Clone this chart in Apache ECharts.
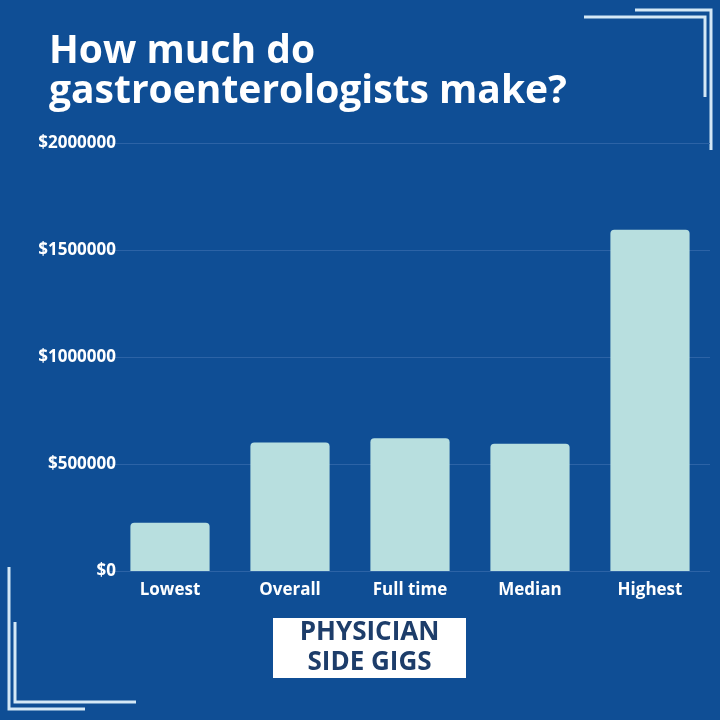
<!DOCTYPE html>
<html>
<head>
<meta charset="utf-8">
<script src="https://cdn.jsdelivr.net/npm/echarts@6/dist/echarts.min.js"></script>
<style>
  html, body { margin: 0; padding: 0; background: #0f4e95; }
  #chart { width: 720px; height: 720px; }
</style>
</head>
<body>
<div id="chart"></div>
<script>
const categories = ['Lowest', 'Overall', 'Full time', 'Median', 'Highest']
const salaries = [225000, 600000, 620000, 595000, 1595000]
const yTicks = [0, 500000, 1000000, 1500000, 2000000]

const bg = '#0f4e95'
const barColor = '#b8dfdf'
const lineColor = '#d4e8f6'
const font = 'Open Sans'

const chart = echarts.init(document.getElementById('chart'))

// corner frames
function frame(points) {
  return {
    type: 'polyline',
    shape: { points },
    style: { stroke: lineColor, lineWidth: 3, fill: null }
  }
}

chart.setOption({
  backgroundColor: bg,
  title: {
    text: 'How much do\ngastroenterologists make?',
    left: 44,
    top: 27,
    textStyle: { color: '#fff', fontFamily: font, fontWeight: 'bold', fontSize: 39, lineHeight: 40 }
  },
  grid: { left: 110, right: 10, top: 143, bottom: 149 },
  xAxis: {
    type: 'category',
    data: categories,
    axisLine: { show: false },
    axisTick: { show: false },
    axisLabel: { color: '#fff', fontFamily: font, fontWeight: 'bold', fontSize: 17, margin: 11 }
  },
  yAxis: {
    type: 'value',
    min: yTicks[0],
    max: yTicks[yTicks.length - 1],
    interval: yTicks[1] - yTicks[0],
    axisLine: { show: false },
    axisTick: { show: false },
    axisLabel: {
      color: '#fff', fontFamily: font, fontWeight: 'bold', fontSize: 17, margin: -6,
      formatter: v => '$' + v
    },
    splitLine: { lineStyle: { color: '#2c63a6', width: 1 } }
  },
  series: [{
    type: 'bar',
    data: salaries,
    barWidth: '66%',
    itemStyle: { color: barColor, borderRadius: [4, 4, 0, 0] }
  }],
  graphic: [
    frame([[635, 10], [711, 10], [711, 150]]),
    frame([[584, 17], [705, 17], [705, 97]]),
    frame([[9, 567], [9, 709], [85, 709]]),
    frame([[15, 622], [15, 702], [136, 702]]),
    {
      type: 'group',
      left: 273,
      top: 618,
      children: [
        { type: 'rect', shape: { x: 0, y: 0, width: 193, height: 60 }, style: { fill: '#fff' } },
        {
          type: 'text',
          x: 96.5, y: 30,
          style: {
            text: 'PHYSICIAN\nSIDE GIGS',
            fill: '#1d3d6a',
            font: 'bold 26px "Open Sans"',
            lineHeight: 30,
            align: 'center',
            verticalAlign: 'middle'
          }
        }
      ]
    }
  ]
})
</script>
</body>
</html>
